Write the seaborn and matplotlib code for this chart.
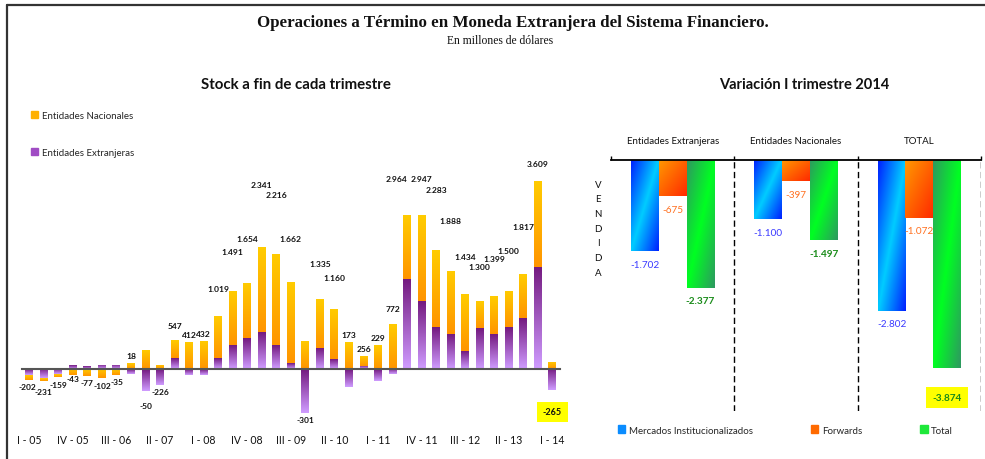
import numpy as np
import pandas as pd
import seaborn as sns
import matplotlib.pyplot as plt
from matplotlib.colors import LinearSegmentedColormap
from matplotlib.patches import Patch
from matplotlib.lines import Line2D

# Stock a fin de cada trimestre (millones de USD)
trimestres = ['I - 05', 'II - 05', 'III - 05', 'IV - 05',
              'I - 06', 'II - 06', 'III - 06', 'IV - 06',
              'I - 07', 'II - 07', 'III - 07', 'IV - 07',
              'I - 08', 'II - 08', 'III - 08', 'IV - 08',
              'I - 09', 'II - 09', 'III - 09', 'IV - 09',
              'I - 10', 'II - 10', 'III - 10', 'IV - 10',
              'I - 11', 'II - 11', 'III - 11', 'IV - 11',
              'I - 12', 'II - 12', 'III - 12', 'IV - 12',
              'I - 13', 'II - 13', 'III - 13', 'IV - 13',
              'I - 14']
extranjeras = [-115, -180, -105, 75, 51, 77, 77, -94, -415, -306, 205, -113,
               -108, 211, 460, 590, 710, 455, 110, -841, 400, 190, -342, 60,
               -226, -96, 1720, 1300, 806, 668, 344, 785, 670, 806, 975, 1958,
               -405]
nacionales = [-87, -51, -54, -118, -128, -179, -112, 112, 365, 80, 342, 525,
              540, 808, 1031, 1064, 1631, 1761, 1552, 540, 935, 970, 515, 196,
              455, 868, 1244, 1647, 1477, 1220, 1090, 515, 729, 694, 842, 1651,
              140]

# Variacion I trimestre 2014
grupos = ['Entidades Extranjeras', 'Entidades Nacionales', 'TOTAL']
series = ['Mercados Institucionalizados', 'Forwards', 'Total']
mercados = [-1702, -1100, -2802]
forwards = [-675, -397, -1072]
total_var = [-2377, -1497, -3874]

sns.set_style('white')
plt.rcParams['font.family'] = ['Lato', 'DejaVu Sans']

fig = plt.figure(figsize=(9.85, 4.6), dpi=100)


def miles(v):
    return f'{v:,}'.replace(',', '.')


def degradar(ax, patches, cmap, modo):
    xl, yl = ax.get_xlim(), ax.get_ylim()
    X, Y = np.meshgrid(np.linspace(0, 1, 40), np.linspace(0, 1, 80))
    if modo == 'v':
        t = Y
    elif modo == 'diag':
        t = np.abs(X + Y - 1)
    else:
        t = (X + Y) / 2
    for p in patches:
        x0, w = p.get_x(), p.get_width()
        y0, h = p.get_y(), p.get_height()
        im = ax.imshow(t, cmap=cmap, vmin=0, vmax=1, origin='upper', aspect='auto',
                       interpolation='bilinear',
                       extent=(x0, x0 + w, min(y0, y0 + h), max(y0, y0 + h)),
                       zorder=p.get_zorder())
        im.set_clip_path(p)
        p.set_facecolor('none')
        p.set_edgecolor('none')
    ax.set_xlim(xl)
    ax.set_ylim(yl)


# ---------- izquierda: stock ----------
ext = np.array(extranjeras)
nac = np.array(nacionales)
base_nac = np.where(np.sign(nac) == np.sign(ext), ext, 0)
df_izq = pd.DataFrame({'trimestre': trimestres, 'extranjeras': ext, 'nacionales': nac})

ax1 = fig.add_axes([22 / 985, 0.0711, 537.7 / 985, 0.5493])
sns.barplot(data=df_izq, x='trimestre', y='extranjeras', color='#9b3fb0',
            width=0.55, saturation=1, errorbar=None, ax=ax1)
n_ext = len(ax1.patches)
sns.barplot(data=df_izq, x='trimestre', y='nacionales', color='#ffb000',
            bottom=base_nac, width=0.55, saturation=1, errorbar=None, ax=ax1)
ax1.set_xlim(-0.5, len(trimestres) - 0.5)
ax1.set_ylim(-1100, 3750)

cm_morado = LinearSegmentedColormap.from_list('m', ['#741a80', '#cf9cff'])
cm_naranja = LinearSegmentedColormap.from_list('n', ['#ffcc00', '#ff9500'])
degradar(ax1, ax1.patches[:n_ext], cm_morado, 'v')
degradar(ax1, ax1.patches[n_ext:], cm_naranja, 'v')

for s in ['top', 'right', 'left']:
    ax1.spines[s].set_visible(False)
ax1.spines['bottom'].set_position(('data', 0))
ax1.spines['bottom'].set_color('#555555')
ax1.spines['bottom'].set_linewidth(1.5)
ax1.set_yticks([])
ax1.set_xticks(range(0, len(trimestres), 3))
ax1.set_xticklabels(trimestres[::3])
ax1.set_xticks(np.arange(-0.5, len(trimestres), 1), minor=True)
ax1.tick_params(axis='x', which='major', length=0, pad=47, labelsize=7.6, colors='#111111')
ax1.tick_params(axis='x', which='minor', direction='in', length=2.5, width=1, color='#222222')
ax1.set_xlabel('')
ax1.set_ylabel('')

tot = ext + nac
pos_top = np.where(ext > 0, ext, 0) + np.where(nac > 0, nac, 0)
neg_bot = np.where(ext < 0, ext, 0) + np.where(nac < 0, nac, 0)
# pequeños corrimientos de etiquetas amontonadas
corr_x = {0: -0.12, 26: -0.7}
corr_y = {1: -70, 3: 60, 8: -150}
for i, v in enumerate(tot):
    dx = corr_x.get(i, 0)
    if v >= 0:
        y = v * 1.51
        if y > 3700:
            y = 3650 + (v - 2950) * 0.45
        y = max(y, pos_top[i] + 140)
        ax1.text(i + dx, y, miles(v), ha='center', va='center', fontsize=6.1,
                 fontweight='bold', color='#111111', clip_on=False)
    elif i == len(tot) - 1:
        ax1.text(i, neg_bot[i] - 420, miles(v), ha='center', va='center', fontsize=6.5,
                 fontweight='bold', color='#111111', clip_on=False,
                 bbox=dict(facecolor='#ffff00', edgecolor='none', pad=4))
    else:
        ax1.text(i + dx, neg_bot[i] - 130 + corr_y.get(i, 0), miles(v), ha='center',
                 va='center', fontsize=6.0, fontweight='bold', color='#111111',
                 clip_on=False)

fig.legend([Patch(color='#ffb000'), Patch(color='#a04cc4')],
           ['Entidades Nacionales', 'Entidades Extranjeras'],
           loc='upper left', bbox_to_anchor=(31 / 985, 1 - 112 / 460), frameon=False,
           fontsize=7, handlelength=0.75, handleheight=0.8, handletextpad=0.4,
           labelspacing=2.85, borderpad=0, borderaxespad=0)

# ---------- derecha: variacion ----------
df_der = pd.DataFrame({'grupo': grupos * 3,
                       'serie': [s for s in series for _ in grupos],
                       'valor': mercados + forwards + total_var})

ax2 = fig.add_axes([611 / 985, 0.1043, 370 / 985, 0.5457])
sns.barplot(data=df_der, x='grupo', y='valor', hue='serie', hue_order=series,
            palette=['#00aaff', '#ff6a00', '#22dd33'], width=0.675, saturation=1,
            errorbar=None, legend=False, ax=ax2)
ax2.set_xlim(-0.5, 2.5)
ax2.set_ylim(-4670, 0)

cm_azul = LinearSegmentedColormap.from_list('a', ['#00ccff', '#0020ff'])
cm_rojo = LinearSegmentedColormap.from_list('r', ['#ff9900', '#ff2a00'])
cm_verde = LinearSegmentedColormap.from_list('v', ['#00ff22', '#2e9960'])
barras = ax2.patches
degradar(ax2, barras[0:3], cm_azul, 'diag')
degradar(ax2, barras[3:6], cm_rojo, 'lin')
degradar(ax2, barras[6:9], cm_verde, 'diag')

for s in ['bottom', 'right', 'left']:
    ax2.spines[s].set_visible(False)
ax2.spines['top'].set_color('black')
ax2.spines['top'].set_linewidth(1.3)
ax2.set_yticks([])
ax2.xaxis.tick_top()
ax2.set_xticks(range(len(grupos)))
ax2.set_xticklabels(grupos)
ax2.set_xticks(np.arange(-0.5, 3, 1), minor=True)
ax2.tick_params(axis='x', which='major', length=0, pad=11, labelsize=7, colors='#111111')
ax2.tick_params(axis='x', which='minor', direction='out', length=3, width=1, color='black')
ax2.set_xlabel('')
ax2.set_ylabel('')
for xv in [0.5, 1.5, 2.5]:
    ax2.axvline(xv, color='black', lw=1, ls=(0, (4.5, 2.5)))

colores_txt = ['#3a3aff', '#ff7020', '#1a8c1a']
pesos = ['normal', 'normal', 'bold']
for k, (serie_vals, col, peso) in enumerate(zip([mercados, forwards, total_var], colores_txt, pesos)):
    for j, v in enumerate(serie_vals):
        p = barras[k * 3 + j]
        xc = p.get_x() + p.get_width() / 2
        if k == 2 and j == 2:
            ax2.text(xc, v - 540, miles(v), ha='center', va='center', fontsize=7.2,
                     fontweight='bold', color=col, clip_on=False,
                     bbox=dict(facecolor='#ffff00', edgecolor='none', pad=4.5))
        else:
            ax2.text(xc, v - 240, miles(v), ha='center', va='center', fontsize=7.2,
                     fontweight=peso, color=col, clip_on=False)

for n, letra in enumerate('VENDIDA'):
    fig.text(598 / 985, 1 - (185 + n * 14.7) / 460, letra, ha='center', va='center',
             fontsize=7, color='#111111')

fig.legend([Patch(color='#0a8cff'), Patch(color='#ff6a00'), Patch(color='#1ee83a')], series,
           loc='center left', bbox_to_anchor=(618 / 985, 1 - 431 / 460), ncol=3,
           frameon=False, fontsize=7, handlelength=0.75, handleheight=0.8,
           handletextpad=0.35, columnspacing=6.0, borderpad=0, borderaxespad=0)

# ---------- titulos ----------
fig.text(513 / 985, 1 - 23 / 460,
         'Operaciones a Término en Moneda Extranjera del Sistema Financiero.',
         ha='center', va='center', fontsize=12.2, fontweight='bold',
         family='Liberation Serif', color='#111111')
fig.text(500 / 985, 1 - 41 / 460, 'En millones de dólares', ha='center', va='center',
         fontsize=8.4, family='Liberation Serif', color='#111111')
fig.text(296 / 985, 1 - 85 / 460, 'Stock a fin de cada trimestre', ha='center',
         va='center', fontsize=10.8, fontweight='bold', color='#111111')
fig.text(804 / 985, 1 - 85 / 460, 'Variación I trimestre 2014', ha='center',
         va='center', fontsize=10.5, fontweight='bold', color='#111111')

# marco
fig.add_artist(Line2D([7 / 985, 7 / 985], [0, 1 - 6 / 460], color='#333333', lw=1.6))
fig.add_artist(Line2D([7 / 985, 1], [1 - 6 / 460, 1 - 6 / 460], color='#333333', lw=1.6))

fig.savefig('out.png', dpi=100)
